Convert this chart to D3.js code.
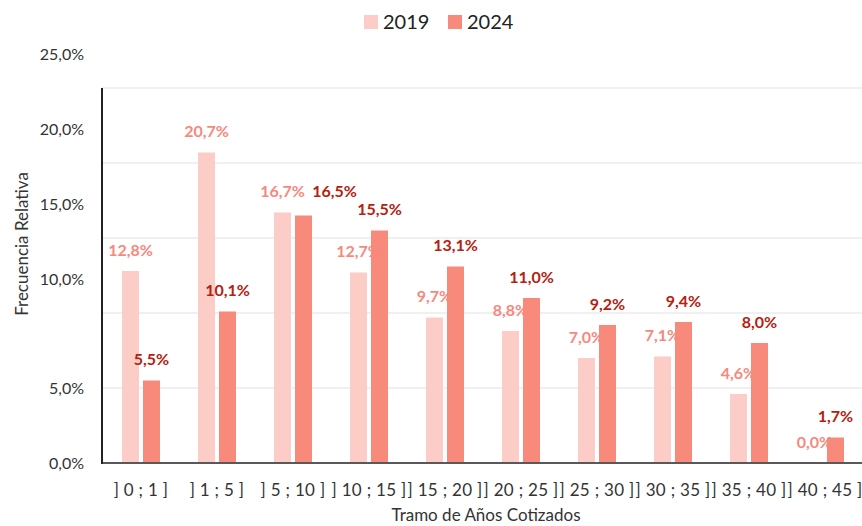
<!DOCTYPE html>
<html>
<head>
<meta charset="utf-8">
<script src="https://cdn.jsdelivr.net/npm/d3@7"></script>
<style>
  body { margin: 0; background: #fff; }
  svg { display: block; font-family: Lato, "Open Sans", sans-serif; }
</style>
</head>
<body>
<div id="chart"></div>
<script>
// tramos de años cotizados
const categories = ["] 0 ; 1 ]", "] 1 ; 5 ]", "] 5 ; 10 ]", "] 10 ; 15 ]", "] 15 ; 20 ]",
                    "] 20 ; 25 ]", "] 25 ; 30 ]", "] 30 ; 35 ]", "] 35 ; 40 ]", "] 40 ; 45 ]"];
const seriesNames = ["2019", "2024"];
const values2019 = [12.8, 20.7, 16.7, 12.7, 9.7, 8.8, 7.0, 7.1, 4.6, 0.0];
const values2024 = [5.5, 10.1, 16.5, 15.5, 13.1, 11.0, 9.2, 9.4, 8.0, 1.7];
const yTicks = [0, 5, 10, 15, 20, 25];
const yTickLabels = ["0,0%", "5,0%", "10,0%", "15,0%", "20,0%", "25,0%"];

const width = 862, height = 526;
const plotLeft = 102, plotRight = 862, plotTop = 88, plotBottom = 463;
const fillColors = { "2019": "#fbcdc6", "2024": "#f88a7c" };
const labelColors = { "2019": "#f6897c", "2024": "#b5200f" };

const svg = d3.select("#chart").append("svg")
  .attr("width", width)
  .attr("height", height);

const x = d3.scaleBand().domain(categories).range([plotLeft, plotRight]).padding(0);
const xs = d3.scaleBand().domain(seriesNames).range([20, 58]).paddingInner(4 / 21);
const y = d3.scaleLinear().domain([0, 25]).range([plotBottom, plotTop]);

// lineas de cuadricula
svg.append("g")
  .selectAll("line")
  .data(yTicks.filter(d => d > 0))
  .enter().append("line")
  .attr("x1", plotLeft).attr("x2", plotRight)
  .attr("y1", d => y(d)).attr("y2", d => y(d))
  .attr("stroke", "#ebebeb")
  .attr("stroke-width", 1.5);

// etiquetas del eje y (las superiores quedan desplazadas hacia arriba en el original)
svg.append("g")
  .selectAll("text")
  .data(yTicks)
  .enter().append("text")
  .attr("x", 84)
  .attr("y", d => y(d) - (d >= 10 ? 34 : 0))
  .attr("dy", "0.35em")
  .attr("text-anchor", "end")
  .attr("font-size", "16px")
  .attr("fill", "#333")
  .text((d, i) => yTickLabels[i]);

const rows = categories.map((c, i) => ({ cat: c, vals: [values2019[i], values2024[i]] }));

// barras
const groups = svg.append("g")
  .selectAll("g")
  .data(rows)
  .enter().append("g")
  .attr("transform", d => "translate(" + x(d.cat) + ",0)");

groups.selectAll("rect")
  .data(d => seriesNames.map((s, j) => ({ s: s, v: d.vals[j] })))
  .enter().append("rect")
  .attr("x", d => xs(d.s))
  .attr("width", xs.bandwidth())
  .attr("y", d => y(d.v))
  .attr("height", d => plotBottom - y(d.v))
  .attr("fill", d => fillColors[d.s]);

// etiquetas de valores
const fmt = v => v.toFixed(1).replace(".", ",") + "%";
rows.forEach(r => {
  const cx = seriesNames.map(s => x(r.cat) + xs(s) + xs.bandwidth() / 2);
  const cy = r.vals.map(v => y(v) - 21);
  // si las etiquetas chocan, la de 2024 se corre a la derecha
  if (Math.abs(cy[0] - cy[1]) < 16) {
    cx[1] += 31;
    cy[1] = cy[0];
  }
  seriesNames.forEach((s, j) => {
    svg.append("text")
      .attr("x", cx[j])
      .attr("y", cy[j])
      .attr("dy", "0.35em")
      .attr("text-anchor", "middle")
      .attr("font-size", "16px")
      .attr("font-weight", "bold")
      .attr("fill", labelColors[s])
      .text(fmt(r.vals[j]));
  });
});

// ejes
svg.append("line")
  .attr("x1", plotLeft).attr("x2", plotRight)
  .attr("y1", plotBottom).attr("y2", plotBottom)
  .attr("stroke", "#595959").attr("stroke-width", 2);
svg.append("line")
  .attr("x1", plotLeft).attr("x2", plotLeft)
  .attr("y1", plotTop).attr("y2", plotBottom + 1)
  .attr("stroke", "#222").attr("stroke-width", 2);

// etiquetas del eje x
svg.append("g")
  .selectAll("text")
  .data(categories)
  .enter().append("text")
  .attr("x", d => x(d) + x.bandwidth() / 2 + 1)
  .attr("y", 490)
  .attr("dy", "0.35em")
  .attr("text-anchor", "middle")
  .attr("font-size", "17px")
  .attr("letter-spacing", "0.3px")
  .attr("fill", "#333")
  .style("white-space", "pre")
  .text(d => d);

// titulos de ejes
svg.append("text")
  .attr("x", 486)
  .attr("y", 515)
  .attr("dy", "0.35em")
  .attr("text-anchor", "middle")
  .attr("font-size", "17px")
  .attr("fill", "#333")
  .text("Tramo de Años Cotizados");

svg.append("text")
  .attr("transform", "translate(22,244) rotate(-90)")
  .attr("dy", "0.35em")
  .attr("text-anchor", "middle")
  .attr("font-size", "17px")
  .attr("fill", "#333")
  .text("Frecuencia Relativa");

// leyenda
const legend = svg.append("g");
const legendX = [364, 448];
seriesNames.forEach((s, j) => {
  legend.append("rect")
    .attr("x", legendX[j]).attr("y", 15)
    .attr("width", 14).attr("height", 14)
    .attr("fill", fillColors[s]);
  legend.append("text")
    .attr("x", legendX[j] + 19)
    .attr("y", 22)
    .attr("dy", "0.35em")
    .attr("font-size", "20px")
    .attr("fill", "#222")
    .text(s);
});
</script>
</body>
</html>
